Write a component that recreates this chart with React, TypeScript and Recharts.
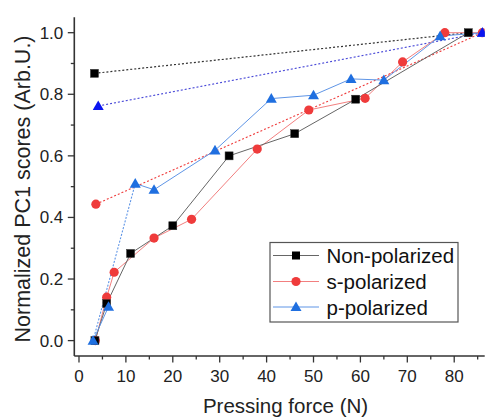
import React from 'react';
import { LineChart, Line, XAxis, YAxis } from 'recharts';

// ---- data ----
const nonPolX = [3.4, 5.9, 11, 20, 32, 46, 59, 83];
const nonPolY = [0, 0.12, 0.283, 0.373, 0.6, 0.672, 0.784, 1.0];
const nonPolOutX = [3.3, 83];
const nonPolOutY = [0.868, 1.0];

const sPolX = [3.5, 5.9, 7.5, 16, 24, 38, 49, 61, 69, 78, 86];
const sPolY = [0, 0.141, 0.222, 0.333, 0.394, 0.622, 0.749, 0.787, 0.905, 1.0, 1.0];
const sPolOutX = [3.6, 86];
const sPolOutY = [0.443, 1.0];

const pPolStartX = [6.3, 3];
const pPolStartY = [0.11, 0];
const pPolJumpX = [3, 12];
const pPolJumpY = [0, 0.51];
const pPolX = [12, 16, 29, 41, 50, 58, 65, 77, 86];
const pPolY = [0.51, 0.49, 0.618, 0.786, 0.797, 0.85, 0.846, 0.989, 1.0];
const pPolOutX = [4.1, 86];
const pPolOutY = [0.762, 1.0];

const xTicks = [0, 5, 10, 15, 20, 25, 30, 35, 40, 45, 50, 55, 60, 65, 70, 75, 80, 85];
const yTicks = [0, 0.1, 0.2, 0.3, 0.4, 0.5, 0.6, 0.7, 0.8, 0.9, 1.0];
const legendLabels = ['Non-polarized', 's-polarized', 'p-polarized'];

const zip = (xs: number[], ys: number[]) => xs.map((x, i) => ({ x, y: ys[i] }));

const FONT = "'Liberation Sans', Arial, sans-serif";

const C_BLACK = '#000000';
const C_BLACK_LINE = '#666666';
const C_RED = '#ef3b3b';
const C_RED_LINE = '#f27f7f';
const C_BLUE = '#1f6fe0';
const C_BLUE_LINE = '#5f95e6';
const C_DBLUE = '#0a14f0';
const C_DBLUE_LINE = '#4a4ad8';

const square = (color: string) => (p: any) => {
  if (p.cx == null || p.cy == null) return <g key={p.index} />;
  return <rect key={p.index} x={p.cx - 4} y={p.cy - 4} width={8} height={8} fill={color} stroke="#333" strokeWidth={0.5} />;
};
const circle = (color: string) => (p: any) => {
  if (p.cx == null || p.cy == null) return <g key={p.index} />;
  return <circle key={p.index} cx={p.cx} cy={p.cy} r={4.6} fill={color} />;
};
const triangle = (color: string) => (p: any) => {
  if (p.cx == null || p.cy == null) return <g key={p.index} />;
  const s = 5.5;
  const d = `M${p.cx},${p.cy - s} L${p.cx + s},${p.cy + s * 0.75} L${p.cx - s},${p.cy + s * 0.75} Z`;
  return <path key={p.index} d={d} fill={color} />;
};

const XTick = (props: any) => {
  const { x, y, payload } = props;
  const v = payload.value;
  const major = v % 10 === 0;
  return (
    <g>
      <line x1={x} y1={y} x2={x} y2={y + (major ? 6.5 : 3.5)} stroke="#333" strokeWidth={1.3} />
      {major && (
        <text x={x} y={y + 26} textAnchor="middle" fontSize={17} fontFamily={FONT} fill="#222">
          {v}
        </text>
      )}
    </g>
  );
};

const YTick = (props: any) => {
  const { x, y, payload } = props;
  const v = payload.value;
  const major = Math.round(v * 10) % 2 === 0;
  return (
    <g>
      <line x1={x - (major ? 6.5 : 3.5)} y1={y} x2={x} y2={y} stroke="#333" strokeWidth={1.3} />
      {major && (
        <text x={x - 11} y={y + 6} textAnchor="end" fontSize={17} fontFamily={FONT} fill="#222">
          {v.toFixed(1)}
        </text>
      )}
    </g>
  );
};

export default function App() {
  const rowY = [255.5, 281.5, 307];
  const legendColors = [
    { line: C_BLACK_LINE, mark: 'sq', c: C_BLACK },
    { line: C_RED_LINE, mark: 'ci', c: C_RED },
    { line: C_BLUE_LINE, mark: 'tr', c: C_BLUE },
  ];
  return (
    <div style={{ position: 'absolute', left: 0, top: 0, width: 485, height: 418, overflow: 'hidden', background: '#fff' }}>
      <LineChart width={485} height={418} margin={{ top: 17.3, right: 0.3, left: 14.3, bottom: 22 }}>
        <XAxis
          dataKey="x"
          type="number"
          domain={[-1, 86.5]}
          ticks={xTicks}
          interval={0}
          height={40}
          tickSize={0}
          tickMargin={0}
          tickLine={false}
          axisLine={{ stroke: '#333', strokeWidth: 1.6 }}
          tick={<XTick />}
          allowDataOverflow
        />
        <YAxis
          dataKey="y"
          type="number"
          domain={[-0.05, 1.05]}
          ticks={yTicks}
          interval={0}
          width={60}
          tickSize={0}
          tickMargin={0}
          tickLine={false}
          axisLine={{ stroke: '#333', strokeWidth: 1.6 }}
          tick={<YTick />}
          allowDataOverflow
        />
        {/* dotted outlier connections */}
        <Line data={zip(nonPolOutX, nonPolOutY)} dataKey="y" stroke="#333" strokeWidth={1.2} strokeDasharray="2 2" dot={false} isAnimationActive={false} />
        <Line data={zip(pPolOutX, pPolOutY)} dataKey="y" stroke={C_DBLUE_LINE} strokeWidth={1.2} strokeDasharray="2 2" dot={false} isAnimationActive={false} />
        <Line data={zip(sPolOutX, sPolOutY)} dataKey="y" stroke={C_RED} strokeWidth={1.1} strokeDasharray="2 2" dot={false} isAnimationActive={false} />
        <Line data={zip(pPolJumpX, pPolJumpY)} dataKey="y" stroke={C_BLUE_LINE} strokeWidth={1.1} strokeDasharray="2 1.5" dot={false} isAnimationActive={false} />
        {/* main series */}
        <Line data={zip(sPolX, sPolY)} dataKey="y" stroke={C_RED_LINE} strokeWidth={1} dot={circle(C_RED)} isAnimationActive={false} />
        <Line data={zip(nonPolX, nonPolY)} dataKey="y" stroke={C_BLACK_LINE} strokeWidth={1} dot={square(C_BLACK)} isAnimationActive={false} />
        <Line data={zip(pPolStartX, pPolStartY)} dataKey="y" stroke={C_BLUE_LINE} strokeWidth={1} dot={triangle(C_BLUE)} isAnimationActive={false} />
        <Line data={zip(pPolX, pPolY)} dataKey="y" stroke={C_BLUE_LINE} strokeWidth={1} dot={triangle(C_BLUE)} isAnimationActive={false} />
        {/* outlier markers */}
        <Line data={zip(nonPolOutX.slice(0, 1), nonPolOutY.slice(0, 1))} dataKey="y" stroke="none" dot={square(C_BLACK)} isAnimationActive={false} />
        <Line data={zip(sPolOutX.slice(0, 1), sPolOutY.slice(0, 1))} dataKey="y" stroke="none" dot={circle(C_RED)} isAnimationActive={false} />
        <Line data={zip(pPolOutX, pPolOutY)} dataKey="y" stroke="none" dot={triangle(C_DBLUE)} isAnimationActive={false} />
      </LineChart>
      <svg width={485} height={418} style={{ position: 'absolute', left: 0, top: 0, pointerEvents: 'none' }}>
        <text x={285.5} y={413} textAnchor="middle" fontSize={20.5} fontFamily={FONT} fill="#222">
          Pressing force (N)
        </text>
        <text
          transform="translate(29.5,189) rotate(-90)"
          x={0}
          y={0}
          textAnchor="middle"
          fontSize={21.5}
          fontFamily={FONT}
          fill="#222"
        >
          Normalized PC1 scores (Arb.U.)
        </text>
        <rect x={270} y={242.5} width={188} height={79.5} fill="#fff" stroke="#555" strokeWidth={1.2} />
        {legendLabels.map((lab, i) => {
          const cy = rowY[i];
          const lc = legendColors[i];
          const cx = 296;
          let mk: any;
          if (lc.mark === 'sq') mk = <rect x={cx - 4} y={cy - 4} width={8} height={8} fill={lc.c} />;
          else if (lc.mark === 'ci') mk = <circle cx={cx} cy={cy} r={4.6} fill={lc.c} />;
          else mk = <path d={`M${cx},${cy - 5.5} L${cx + 5.5},${cy + 4.1} L${cx - 5.5},${cy + 4.1} Z`} fill={lc.c} />;
          return (
            <g key={lab}>
              <line x1={273} y1={cy} x2={319} y2={cy} stroke={lc.line} strokeWidth={1} />
              {mk}
              <text x={326.5} y={cy + 7.5} fontSize={20.5} fontFamily={FONT} fill="#111">
                {lab}
              </text>
            </g>
          );
        })}
      </svg>
    </div>
  );
}
